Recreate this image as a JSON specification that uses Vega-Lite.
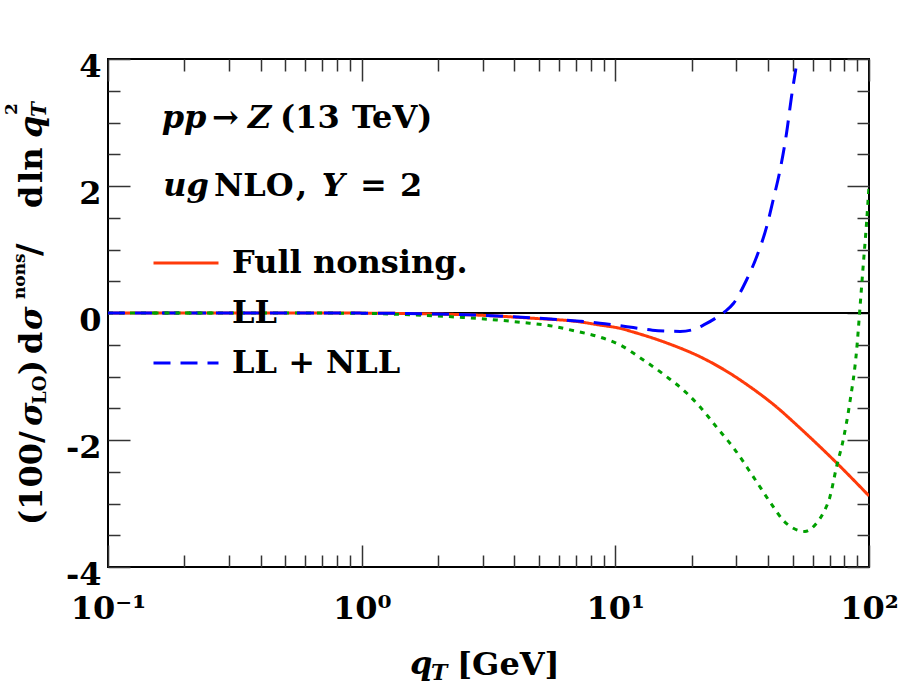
{
  "$schema": "https://vega.github.io/schema/vega-lite/v6.json",
  "width": 761,
  "height": 508,
  "autosize": {"type": "none"},
  "padding": {"left": 108, "top": 59, "right": 31, "bottom": 123},
  "background": "white",
  "config": {
    "view": {"stroke": "#000000", "strokeWidth": 2},
    "axis": {"domain": false, "grid": false, "tickColor": "#333333", "tickWidth": 1.5, "labelFont": "DejaVu Serif", "labelFontWeight": "bold", "labelFontSize": 32, "labelColor": "#000000", "labelOverlap": false, "labelFlush": false},
    "legend": {"symbolType": "stroke", "symbolSize": 4225, "symbolStrokeWidth": 3, "clipHeight": 50, "rowPadding": 0, "labelFont": "DejaVu Serif", "labelFontSize": 32, "labelFontWeight": "bold", "labelColor": "#000000", "labelOffset": 12, "labelLimit": 500, "padding": 0, "offset": 0, "symbolOffset": 0},
    "text": {"font": "DejaVu Serif", "fontWeight": "bold", "color": "#000000"}
  },
  "datasets": {
    "curves": [
      {"q": 0.1, "v": 0, "series": "Full nonsing."},
      {"q": 0.2, "v": 0, "series": "Full nonsing."},
      {"q": 0.5, "v": 0, "series": "Full nonsing."},
      {"q": 1, "v": -0.002, "series": "Full nonsing."},
      {"q": 1.5, "v": -0.008, "series": "Full nonsing."},
      {"q": 2, "v": -0.016, "series": "Full nonsing."},
      {"q": 2.93, "v": -0.035, "series": "Full nonsing."},
      {"q": 4.61, "v": -0.08, "series": "Full nonsing."},
      {"q": 7.25, "v": -0.14, "series": "Full nonsing."},
      {"q": 8.69, "v": -0.19, "series": "Full nonsing."},
      {"q": 10.4, "v": -0.24, "series": "Full nonsing."},
      {"q": 11.77, "v": -0.3, "series": "Full nonsing."},
      {"q": 15.9, "v": -0.47, "series": "Full nonsing."},
      {"q": 21.6, "v": -0.69, "series": "Full nonsing."},
      {"q": 27.0, "v": -0.9, "series": "Full nonsing."},
      {"q": 33.9, "v": -1.16, "series": "Full nonsing."},
      {"q": 42.6, "v": -1.46, "series": "Full nonsing."},
      {"q": 53.4, "v": -1.81, "series": "Full nonsing."},
      {"q": 74.5, "v": -2.36, "series": "Full nonsing."},
      {"q": 100, "v": -2.88, "series": "Full nonsing."},
      {"q": 0.1, "v": 0, "series": "LL"},
      {"q": 0.5, "v": 0, "series": "LL"},
      {"q": 1, "v": -0.005, "series": "LL"},
      {"q": 1.59, "v": -0.03, "series": "LL"},
      {"q": 2.51, "v": -0.07, "series": "LL"},
      {"q": 3.41, "v": -0.11, "series": "LL"},
      {"q": 4.32, "v": -0.15, "series": "LL"},
      {"q": 5.52, "v": -0.2, "series": "LL"},
      {"q": 7.06, "v": -0.29, "series": "LL"},
      {"q": 8.69, "v": -0.38, "series": "LL"},
      {"q": 10.4, "v": -0.5, "series": "LL"},
      {"q": 12.9, "v": -0.74, "series": "LL"},
      {"q": 15.9, "v": -1.0, "series": "LL"},
      {"q": 19.1, "v": -1.26, "series": "LL"},
      {"q": 21.6, "v": -1.48, "series": "LL"},
      {"q": 25.1, "v": -1.8, "series": "LL"},
      {"q": 29.2, "v": -2.12, "series": "LL"},
      {"q": 35.0, "v": -2.58, "series": "LL"},
      {"q": 41.9, "v": -3.05, "series": "LL"},
      {"q": 46, "v": -3.27, "series": "LL"},
      {"q": 50.3, "v": -3.39, "series": "LL"},
      {"q": 55.9, "v": -3.44, "series": "LL"},
      {"q": 62.1, "v": -3.31, "series": "LL"},
      {"q": 66, "v": -3.15, "series": "LL"},
      {"q": 70.1, "v": -2.9, "series": "LL"},
      {"q": 74.5, "v": -2.42, "series": "LL"},
      {"q": 79.1, "v": -2.0, "series": "LL"},
      {"q": 84.1, "v": -1.4, "series": "LL"},
      {"q": 89.4, "v": -0.58, "series": "LL"},
      {"q": 92, "v": 0.05, "series": "LL"},
      {"q": 94.9, "v": 0.75, "series": "LL"},
      {"q": 97.8, "v": 1.42, "series": "LL"},
      {"q": 100, "v": 2.0, "series": "LL"},
      {"q": 0.1, "v": 0, "series": "LL + NLL"},
      {"q": 0.5, "v": 0, "series": "LL + NLL"},
      {"q": 1, "v": -0.002, "series": "LL + NLL"},
      {"q": 1.5, "v": -0.008, "series": "LL + NLL"},
      {"q": 2, "v": -0.016, "series": "LL + NLL"},
      {"q": 2.93, "v": -0.035, "series": "LL + NLL"},
      {"q": 4.61, "v": -0.075, "series": "LL + NLL"},
      {"q": 7.25, "v": -0.13, "series": "LL + NLL"},
      {"q": 8.69, "v": -0.16, "series": "LL + NLL"},
      {"q": 10.4, "v": -0.2, "series": "LL + NLL"},
      {"q": 11.77, "v": -0.23, "series": "LL + NLL"},
      {"q": 14, "v": -0.27, "series": "LL + NLL"},
      {"q": 15.9, "v": -0.285, "series": "LL + NLL"},
      {"q": 18, "v": -0.29, "series": "LL + NLL"},
      {"q": 20.3, "v": -0.26, "series": "LL + NLL"},
      {"q": 22.5, "v": -0.18, "series": "LL + NLL"},
      {"q": 25.1, "v": -0.07, "series": "LL + NLL"},
      {"q": 27.2, "v": 0.03, "series": "LL + NLL"},
      {"q": 29.2, "v": 0.15, "series": "LL + NLL"},
      {"q": 32.9, "v": 0.52, "series": "LL + NLL"},
      {"q": 36.1, "v": 0.89, "series": "LL + NLL"},
      {"q": 39.5, "v": 1.36, "series": "LL + NLL"},
      {"q": 41.9, "v": 1.78, "series": "LL + NLL"},
      {"q": 44.6, "v": 2.25, "series": "LL + NLL"},
      {"q": 47.3, "v": 2.83, "series": "LL + NLL"},
      {"q": 49.5, "v": 3.41, "series": "LL + NLL"},
      {"q": 51.5, "v": 3.85, "series": "LL + NLL"}
    ]
  },
  "resolve": {"axis": {"x": "independent", "y": "independent"}},
  "layer": [
    {
      "data": {"values": [{"zero": 0}]},
      "mark": {"type": "rule", "color": "#000000", "strokeWidth": 2},
      "encoding": {
        "y": {"field": "zero", "type": "quantitative", "scale": {"domain": [-4, 4], "nice": false, "zero": false},
          "axis": {"orient": "left", "title": null, "values": [-4, -2, 0, 2, 4], "tickSize": -22, "labelPadding": 29, "labelAlign": "right", "labelBaseline": "alphabetic", "labelOffset": 17, "labelExpr": "datum.value < 0 ? '-' + abs(datum.value) : '' + datum.value"}}
      }
    },
    {
      "data": {"name": "curves"},
      "transform": [{"filter": "datum.series === 'Full nonsing.'"}],
      "mark": {"type": "line", "interpolate": "monotone", "strokeWidth": 3, "clip": true},
      "encoding": {
        "x": {"field": "q", "type": "quantitative", "scale": {"type": "log", "domain": [0.1, 100], "nice": false},
          "axis": {"orient": "bottom", "title": null, "values": [0.1, 1, 10, 100], "tickSize": -22, "labelPadding": 73, "labelAlign": "center", "labelBaseline": "alphabetic", "labelExpr": "datum.value < 0.5 ? '10⁻¹' : datum.value < 5 ? '10⁰' : datum.value < 50 ? '10¹' : '10²'"}},
        "y": {"field": "v", "type": "quantitative", "scale": {"domain": [-4, 4], "nice": false, "zero": false},
          "axis": {"orient": "left", "title": null, "values": [-3.5, -3, -2.5, -1.5, -1, -0.5, 0.5, 1, 1.5, 2.5, 3, 3.5], "tickSize": -12, "labels": false}},
        "color": {"field": "series", "type": "nominal", "scale": {"domain": ["Full nonsing.", "LL", "LL + NLL"], "range": ["#ff3a0a", "#00a000", "#0000ff"]},
          "legend": {"orient": "none", "legendX": 44, "legendY": 179, "title": null}},
        "strokeDash": {"field": "series", "type": "nominal", "scale": {"domain": ["Full nonsing.", "LL", "LL + NLL"], "range": [[1, 0], [5, 6], [17, 10]]},
          "legend": {"orient": "none", "legendX": 44, "legendY": 179, "title": null}}
      }
    },
    {
      "data": {"name": "curves"},
      "transform": [{"filter": "datum.series === 'LL'"}],
      "mark": {"type": "line", "interpolate": "monotone", "strokeWidth": 3, "clip": true},
      "encoding": {
        "x": {"field": "q", "type": "quantitative", "scale": {"type": "log", "domain": [0.1, 100], "nice": false},
          "axis": {"orient": "bottom", "title": null, "values": [0.2, 0.3, 0.4, 0.5, 0.6, 0.7, 0.8, 0.9, 2, 3, 4, 5, 6, 7, 8, 9, 20, 30, 40, 50, 60, 70, 80, 90], "tickSize": -12, "labels": false}},
        "y": {"field": "v", "type": "quantitative", "scale": {"domain": [-4, 4], "nice": false, "zero": false},
          "axis": {"orient": "right", "title": null, "values": [-4, -2, 0, 2, 4], "tickSize": -22, "labels": false}},
        "color": {"field": "series", "type": "nominal", "legend": null},
        "strokeDash": {"field": "series", "type": "nominal", "legend": null}
      }
    },
    {
      "data": {"name": "curves"},
      "transform": [{"filter": "datum.series === 'LL + NLL'"}],
      "mark": {"type": "line", "interpolate": "monotone", "strokeWidth": 3, "clip": true},
      "encoding": {
        "x": {"field": "q", "type": "quantitative", "scale": {"type": "log", "domain": [0.1, 100], "nice": false},
          "axis": {"orient": "top", "title": null, "values": [0.1, 1, 10, 100], "tickSize": -22, "labels": false}},
        "y": {"field": "v", "type": "quantitative", "scale": {"domain": [-4, 4], "nice": false, "zero": false},
          "axis": {"orient": "right", "title": null, "values": [-3.5, -3, -2.5, -1.5, -1, -0.5, 0.5, 1, 1.5, 2.5, 3, 3.5], "tickSize": -12, "labels": false}},
        "color": {"field": "series", "type": "nominal", "legend": null},
        "strokeDash": {"field": "series", "type": "nominal", "legend": null}
      }
    },
    {
      "data": {"values": [{}]},
      "mark": {"type": "text", "text": "pp", "fontSize": 32, "fontStyle": "italic", "align": "left", "baseline": "alphabetic"},
      "encoding": {
        "x": {"datum": 0.1628, "type": "quantitative", "axis": {"orient": "top", "title": null, "values": [0.2, 0.3, 0.4, 0.5, 0.6, 0.7, 0.8, 0.9, 2, 3, 4, 5, 6, 7, 8, 9, 20, 30, 40, 50, 60, 70, 80, 90], "tickSize": -12, "labels": false}},
        "y": {"datum": 2.913, "type": "quantitative", "axis": null}
      }
    },
    {"data": {"values": [{}]}, "mark": {"type": "text", "text": "→", "fontSize": 32, "align": "left", "baseline": "alphabetic"},
      "encoding": {"x": {"datum": 0.257, "type": "quantitative", "axis": null}, "y": {"datum": 2.913, "type": "quantitative", "axis": null}}},
    {"data": {"values": [{}]}, "mark": {"type": "text", "text": "Z", "fontSize": 32, "fontStyle": "italic", "align": "left", "baseline": "alphabetic"},
      "encoding": {"x": {"datum": 0.3565, "type": "quantitative", "axis": null}, "y": {"datum": 2.913, "type": "quantitative", "axis": null}}},
    {"data": {"values": [{}]}, "mark": {"type": "text", "text": "(13", "fontSize": 32, "align": "left", "baseline": "alphabetic"},
      "encoding": {"x": {"datum": 0.4764, "type": "quantitative", "axis": null}, "y": {"datum": 2.913, "type": "quantitative", "axis": null}}},
    {"data": {"values": [{}]}, "mark": {"type": "text", "text": "TeV)", "fontSize": 32, "align": "left", "baseline": "alphabetic"},
      "encoding": {"x": {"datum": 0.9158, "type": "quantitative", "axis": null}, "y": {"datum": 2.913, "type": "quantitative", "axis": null}}},
    {"data": {"values": [{}]}, "mark": {"type": "text", "text": "ug", "fontSize": 32, "fontStyle": "italic", "align": "left", "baseline": "alphabetic"},
      "encoding": {"x": {"datum": 0.1652, "type": "quantitative", "axis": null}, "y": {"datum": 1.843, "type": "quantitative", "axis": null}}},
    {"data": {"values": [{}]}, "mark": {"type": "text", "text": "NLO", "fontSize": 32, "align": "left", "baseline": "alphabetic"},
      "encoding": {"x": {"datum": 0.2618, "type": "quantitative", "axis": null}, "y": {"datum": 1.843, "type": "quantitative", "axis": null}}},
    {"data": {"values": [{}]}, "mark": {"type": "text", "text": ",", "fontSize": 32, "align": "left", "baseline": "alphabetic"},
      "encoding": {"x": {"datum": 0.5509, "type": "quantitative", "axis": null}, "y": {"datum": 1.843, "type": "quantitative", "axis": null}}},
    {"data": {"values": [{}]}, "mark": {"type": "text", "text": "Y", "fontSize": 32, "fontStyle": "italic", "align": "left", "baseline": "alphabetic"},
      "encoding": {"x": {"datum": 0.6956, "type": "quantitative", "axis": null}, "y": {"datum": 1.843, "type": "quantitative", "axis": null}}},
    {"data": {"values": [{}]}, "mark": {"type": "text", "text": "=", "fontSize": 32, "align": "left", "baseline": "alphabetic"},
      "encoding": {"x": {"datum": 0.9847, "type": "quantitative", "axis": null}, "y": {"datum": 1.843, "type": "quantitative", "axis": null}}},
    {"data": {"values": [{}]}, "mark": {"type": "text", "text": "2", "fontSize": 32, "align": "left", "baseline": "alphabetic"},
      "encoding": {"x": {"datum": 1.4157, "type": "quantitative", "axis": null}, "y": {"datum": 1.843, "type": "quantitative", "axis": null}}},
    {"data": {"values": [{}]}, "mark": {"type": "text", "text": "q", "fontSize": 32, "fontStyle": "italic", "align": "left", "baseline": "alphabetic", "dy": 107},
      "encoding": {"x": {"datum": 1.5505, "type": "quantitative", "axis": null}, "y": {"datum": -4, "type": "quantitative", "axis": null}}},
    {"data": {"values": [{}]}, "mark": {"type": "text", "text": "T", "fontSize": 22, "fontStyle": "italic", "align": "left", "baseline": "alphabetic", "dy": 113},
      "encoding": {"x": {"datum": 1.8762, "type": "quantitative", "axis": null}, "y": {"datum": -4, "type": "quantitative", "axis": null}}},
    {"data": {"values": [{}]}, "mark": {"type": "text", "text": "[GeV]", "fontSize": 32, "align": "left", "baseline": "alphabetic", "dy": 108},
      "encoding": {"x": {"datum": 2.375, "type": "quantitative", "axis": null}, "y": {"datum": -4, "type": "quantitative", "axis": null}}},
    {"data": {"values": [{}]}, "mark": {"type": "text", "text": "(100/", "fontSize": 32, "angle": 270, "align": "left", "baseline": "alphabetic", "dy": -66},
      "encoding": {"x": {"datum": 0.1, "type": "quantitative", "axis": null}, "y": {"datum": -3.339, "type": "quantitative", "axis": null}}},
    {"data": {"values": [{}]}, "mark": {"type": "text", "text": "σ", "fontSize": 32, "fontStyle": "italic", "angle": 270, "align": "left", "baseline": "alphabetic", "dy": -66},
      "encoding": {"x": {"datum": 0.1, "type": "quantitative", "axis": null}, "y": {"datum": -1.78, "type": "quantitative", "axis": null}}},
    {"data": {"values": [{}]}, "mark": {"type": "text", "text": "LO", "fontSize": 18, "angle": 270, "align": "left", "baseline": "alphabetic", "dy": -62},
      "encoding": {"x": {"datum": 0.1, "type": "quantitative", "axis": null}, "y": {"datum": -1.433, "type": "quantitative", "axis": null}}},
    {"data": {"values": [{}]}, "mark": {"type": "text", "text": ")", "fontSize": 32, "angle": 270, "align": "left", "baseline": "alphabetic", "dy": -66},
      "encoding": {"x": {"datum": 0.1, "type": "quantitative", "axis": null}, "y": {"datum": -0.976, "type": "quantitative", "axis": null}}},
    {"data": {"values": [{}]}, "mark": {"type": "text", "text": "d", "fontSize": 32, "angle": 270, "align": "left", "baseline": "alphabetic", "dy": -66},
      "encoding": {"x": {"datum": 0.1, "type": "quantitative", "axis": null}, "y": {"datum": -0.646, "type": "quantitative", "axis": null}}},
    {"data": {"values": [{}]}, "mark": {"type": "text", "text": "σ", "fontSize": 32, "fontStyle": "italic", "angle": 270, "align": "left", "baseline": "alphabetic", "dy": -66},
      "encoding": {"x": {"datum": 0.1, "type": "quantitative", "axis": null}, "y": {"datum": -0.268, "type": "quantitative", "axis": null}}},
    {"data": {"values": [{}]}, "mark": {"type": "text", "text": "nons", "fontSize": 17, "angle": 270, "align": "left", "baseline": "alphabetic", "dy": -83},
      "encoding": {"x": {"datum": 0.1, "type": "quantitative", "axis": null}, "y": {"datum": 0.22, "type": "quantitative", "axis": null}}},
    {"data": {"values": [{}]}, "mark": {"type": "text", "text": "/", "fontSize": 34, "angle": 270, "align": "left", "baseline": "alphabetic", "dy": -67},
      "encoding": {"x": {"datum": 0.1, "type": "quantitative", "axis": null}, "y": {"datum": 0.898, "type": "quantitative", "axis": null}}},
    {"data": {"values": [{}]}, "mark": {"type": "text", "text": "d", "fontSize": 32, "angle": 270, "align": "left", "baseline": "alphabetic", "dy": -66},
      "encoding": {"x": {"datum": 0.1, "type": "quantitative", "axis": null}, "y": {"datum": 1.654, "type": "quantitative", "axis": null}}},
    {"data": {"values": [{}]}, "mark": {"type": "text", "text": "ln", "fontSize": 32, "angle": 270, "align": "left", "baseline": "alphabetic", "dy": -66},
      "encoding": {"x": {"datum": 0.1, "type": "quantitative", "axis": null}, "y": {"datum": 2.047, "type": "quantitative", "axis": null}}},
    {"data": {"values": [{}]}, "mark": {"type": "text", "text": "q", "fontSize": 32, "fontStyle": "italic", "angle": 270, "align": "left", "baseline": "alphabetic", "dy": -66},
      "encoding": {"x": {"datum": 0.1, "type": "quantitative", "axis": null}, "y": {"datum": 2.756, "type": "quantitative", "axis": null}}},
    {"data": {"values": [{}]}, "mark": {"type": "text", "text": "2", "fontSize": 17, "angle": 270, "align": "left", "baseline": "alphabetic", "dy": -91},
      "encoding": {"x": {"datum": 0.1, "type": "quantitative", "axis": null}, "y": {"datum": 3.118, "type": "quantitative", "axis": null}}},
    {"data": {"values": [{}]}, "mark": {"type": "text", "text": "T", "fontSize": 20, "fontStyle": "italic", "angle": 270, "align": "left", "baseline": "alphabetic", "dy": -62},
      "encoding": {"x": {"datum": 0.1, "type": "quantitative", "axis": null}, "y": {"datum": 3.087, "type": "quantitative", "axis": null}}}
  ]
}
